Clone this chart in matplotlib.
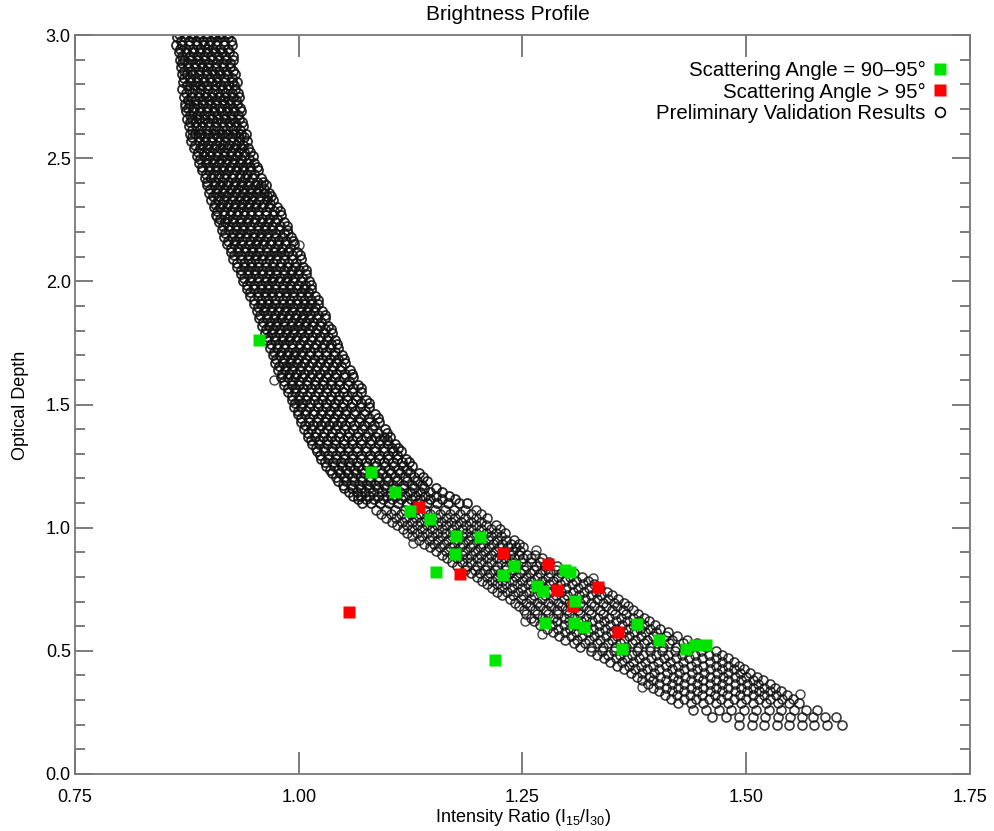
import numpy as np
import matplotlib
matplotlib.use("Agg")
from matplotlib import pyplot as plt
from matplotlib.ticker import MultipleLocator
from matplotlib.lines import Line2D

plt.rcParams['font.family'] = ['Liberation Sans', 'DejaVu Sans']
plt.rcParams['mathtext.default'] = 'regular'
narrow = ['Liberation Sans Narrow', 'Liberation Sans', 'DejaVu Sans']

# validation points, upper (steep) part of the band: (optical depth, [intensity ratios])
upper_rows = [
    (3.02, [.862, .869, .878, .885, .893, .902, .909, .917, .923]),
    (2.99, [.864, .873, .881, .888, .897, .905, .912, .921]),
    (2.96, [.863, .870, .877, .886, .894, .900, .908, .916, .925]),
    (2.93, [.866, .874, .882, .890, .898, .906, .914, .922]),
    (2.90, [.867, .872, .880, .887, .895, .903, .910, .919, .927]),
    (2.87, [.868, .876, .884, .892, .899, .907, .915, .923]),
    (2.84, [.869, .875, .882, .889, .897, .905, .912, .920, .929]),
    (2.81, [.871, .879, .886, .894, .902, .909, .917, .925, .931]),
    (2.78, [.870, .877, .884, .891, .899, .906, .914, .921, .929]),
    (2.75, [.872, .880, .888, .896, .903, .911, .918, .926, .933]),
    (2.72, [.873, .879, .886, .893, .901, .908, .916, .923, .931]),
    (2.69, [.874, .882, .890, .897, .905, .913, .920, .928, .936]),
    (2.66, [.875, .881, .888, .895, .903, .910, .918, .925, .933]),
    (2.63, [.877, .885, .892, .900, .907, .915, .923, .930, .938]),
    (2.60, [.878, .884, .891, .899, .906, .914, .921, .929, .936, .941]),
    (2.57, [.880, .888, .895, .903, .911, .918, .926, .933, .942]),
    (2.54, [.883, .890, .897, .905, .912, .920, .928, .935, .943]),
    (2.51, [.886, .894, .901, .909, .916, .924, .931, .939, .949]),
    (2.48, [.889, .896, .904, .911, .919, .927, .934, .942, .950]),
    (2.45, [.892, .900, .907, .915, .922, .930, .938, .945, .955]),
    (2.42, [.895, .902, .910, .917, .925, .933, .940, .948, .958]),
    (2.39, [.897, .905, .912, .920, .928, .935, .943, .951, .958, .963]),
    (2.36, [.900, .907, .915, .922, .930, .938, .945, .953, .961, .967]),
    (2.33, [.902, .910, .917, .925, .933, .940, .948, .956, .964, .971]),
    (2.30, [.905, .912, .920, .928, .935, .943, .951, .959, .967, .976]),
    (2.27, [.908, .916, .923, .931, .939, .947, .955, .963, .971, .980]),
    (2.24, [.911, .918, .926, .934, .942, .950, .958, .966, .974, .984]),
    (2.21, [.914, .922, .930, .938, .946, .954, .962, .970, .978, .987]),
    (2.18, [.917, .925, .933, .941, .949, .957, .965, .973, .981, .991]),
    (2.15, [.920, .928, .936, .944, .952, .960, .968, .977, .985, .995]),
    (2.12, [.924, .932, .940, .948, .956, .964, .972, .980, .988, .998]),
    (2.09, [.927, .935, .943, .951, .959, .967, .975, .984, .992, 1.002]),
    (2.06, [.931, .939, .947, .955, .963, .971, .979, .987, .996, 1.005]),
    (2.03, [.935, .943, .951, .959, .967, .975, .983, .991, .999, 1.008]),
    (2.00, [.938, .946, .954, .962, .970, .978, .986, .994, 1.003, 1.011]),
    (1.97, [.942, .950, .958, .966, .974, .982, .990, .998, 1.006, 1.014]),
    (1.94, [.946, .954, .962, .970, .978, .986, .994, 1.002, 1.010, 1.018]),
    (1.91, [.950, .958, .966, .974, .982, .990, .998, 1.006, 1.014, 1.022]),
    (1.88, [.953, .961, .969, .977, .985, .993, 1.001, 1.009, 1.017, 1.026]),
    (1.85, [.956, .964, .972, .980, .988, .996, 1.004, 1.012, 1.020, 1.029]),
    (1.82, [.959, .967, .975, .983, .991, .999, 1.007, 1.015, 1.024, 1.033]),
    (1.79, [.962, .970, .978, .986, .994, 1.002, 1.010, 1.019, 1.028, 1.037]),
    (1.76, [.965, .973, .981, .989, .997, 1.005, 1.014, 1.023, 1.032, 1.040]),
    (1.73, [.968, .976, .984, .992, 1.000, 1.008, 1.017, 1.026, 1.035, 1.044]),
    (1.70, [.971, .979, .987, .995, 1.003, 1.012, 1.021, 1.030, 1.039, 1.048]),
    (1.67, [.974, .982, .990, .998, 1.006, 1.015, 1.024, 1.033, 1.042, 1.052]),
    (1.64, [.977, .985, .993, 1.001, 1.010, 1.019, 1.028, 1.037, 1.046, 1.057]),
    (1.61, [.980, .988, .996, 1.004, 1.013, 1.022, 1.031, 1.040, 1.050, 1.061]),
    (1.58, [.984, .992, 1.000, 1.009, 1.018, 1.027, 1.036, 1.045, 1.055, 1.066]),
    (1.55, [.988, .996, 1.004, 1.013, 1.022, 1.031, 1.040, 1.049, 1.059, 1.070]),
    (1.52, [.992, 1.000, 1.008, 1.017, 1.026, 1.035, 1.044, 1.054, 1.064, 1.075]),
    (1.49, [.995, 1.003, 1.012, 1.021, 1.030, 1.039, 1.048, 1.058, 1.068, 1.079]),
    (1.46, [.999, 1.007, 1.016, 1.025, 1.034, 1.043, 1.052, 1.062, 1.073, 1.085]),
    (1.43, [1.003, 1.011, 1.020, 1.029, 1.038, 1.047, 1.057, 1.067, 1.078, 1.090]),
    (1.40, [1.006, 1.014, 1.023, 1.032, 1.041, 1.051, 1.061, 1.071, 1.082, 1.096]),
    (1.37, [1.010, 1.018, 1.027, 1.036, 1.045, 1.055, 1.065, 1.075, 1.086, 1.095, 1.102]),
    (1.34, [1.015, 1.023, 1.032, 1.041, 1.050, 1.060, 1.070, 1.080, 1.090, 1.100, 1.108]),
    (1.31, [1.020, 1.028, 1.037, 1.046, 1.055, 1.065, 1.075, 1.085, 1.095, 1.105, 1.114]),
    (1.28, [1.025, 1.033, 1.042, 1.051, 1.060, 1.070, 1.080, 1.090, 1.100, 1.110, 1.120]),
    (1.25, [1.031, 1.039, 1.048, 1.057, 1.066, 1.076, 1.086, 1.096, 1.106, 1.116, 1.126]),
    (1.22, [1.037, 1.046, 1.055, 1.064, 1.073, 1.083, 1.093, 1.103, 1.113, 1.124, 1.134]),
    (1.19, [1.044, 1.053, 1.062, 1.071, 1.080, 1.090, 1.100, 1.110, 1.121, 1.132, 1.143]),
    (1.16, [1.051, 1.060, 1.069, 1.078, 1.088, 1.098, 1.108, 1.118, 1.129, 1.140, 1.153]),
    (1.13, [1.061, 1.070, 1.079, 1.089, 1.099, 1.109, 1.119, 1.130, 1.141, 1.153, 1.168]),
    (1.10, [1.071, 1.081, 1.091, 1.101, 1.111, 1.121, 1.132, 1.143, 1.155, 1.167, 1.179, 1.188]),
]

# points lying between the rows above
upper_rows_b = [
    (3.005, [.866, .874, .882, .889, .898, .906, .913, .920]),
    (2.975, [.868, .877, .885, .893, .901, .909, .917, .924]),
    (2.945, [.867, .874, .882, .890, .897, .904, .912, .921]),
    (2.915, [.870, .878, .886, .894, .902, .910, .918, .926]),
    (2.885, [.870, .876, .884, .891, .899, .907, .915, .923]),
    (2.855, [.872, .880, .888, .896, .903, .911, .919, .927]),
    (2.825, [.872, .879, .886, .893, .901, .909, .916, .925]),
    (2.795, [.875, .883, .890, .898, .906, .913, .921, .928]),
    (2.765, [.874, .881, .888, .895, .903, .910, .918, .925, .932]),
    (2.735, [.876, .884, .892, .900, .907, .915, .922, .930]),
    (2.705, [.876, .883, .890, .897, .905, .912, .920, .927, .934]),
    (2.675, [.878, .886, .894, .901, .909, .917, .924, .932]),
    (2.645, [.878, .885, .892, .899, .907, .914, .922, .929, .937]),
    (2.615, [.881, .889, .896, .904, .911, .919, .927, .934]),
    (2.585, [.881, .888, .895, .903, .910, .918, .925, .933, .939]),
    (2.555, [.884, .892, .899, .907, .915, .922, .930, .938]),
    (2.525, [.887, .894, .901, .909, .916, .924, .932, .939, .946]),
    (2.495, [.890, .898, .905, .913, .920, .928, .935, .944]),
    (2.465, [.892, .900, .908, .915, .923, .931, .938, .946, .953]),
    (2.435, [.896, .904, .911, .919, .926, .934, .942, .950]),
    (2.405, [.898, .906, .914, .921, .929, .937, .944, .953, .960]),
    (2.375, [.901, .909, .916, .924, .932, .939, .947, .955, .961]),
    (2.345, [.904, .911, .919, .926, .934, .942, .949, .957, .964, .969]),
    (2.315, [.906, .914, .921, .929, .937, .944, .952, .960, .968]),
    (2.285, [.909, .916, .924, .932, .939, .947, .955, .963, .972, .979]),
    (2.255, [.912, .920, .927, .935, .943, .951, .959, .967, .976]),
    (2.225, [.915, .922, .930, .938, .946, .954, .962, .970, .979, .987]),
    (2.195, [.918, .926, .934, .942, .950, .958, .966, .974, .983]),
    (2.165, [.921, .929, .937, .945, .953, .961, .969, .977, .986, .994]),
    (2.135, [.924, .932, .940, .948, .956, .964, .973, .981, .990]),
    (2.105, [.928, .936, .944, .952, .960, .968, .976, .984, .993, 1.001]),
    (2.075, [.931, .939, .947, .955, .963, .971, .980, .988, .997]),
    (2.045, [.935, .943, .951, .959, .967, .975, .983, .992, 1.000, 1.008]),
    (2.015, [.939, .947, .955, .963, .971, .979, .987, .995, 1.004]),
    (1.985, [.942, .950, .958, .966, .974, .982, .990, .999, 1.007, 1.014]),
    (1.955, [.946, .954, .962, .970, .978, .986, .994, 1.002, 1.010]),
    (1.925, [.950, .958, .966, .974, .982, .990, .998, 1.006, 1.014, 1.021]),
    (1.895, [.954, .962, .970, .978, .986, .994, 1.002, 1.010, 1.018]),
    (1.865, [.957, .965, .973, .981, .989, .997, 1.005, 1.013, 1.022, 1.029]),
    (1.835, [.960, .968, .976, .984, .992, 1.000, 1.008, 1.016, 1.025]),
    (1.805, [.963, .971, .979, .987, .995, 1.003, 1.011, 1.020, 1.029, 1.036]),
    (1.775, [.966, .974, .982, .990, .998, 1.006, 1.015, 1.024, 1.033]),
    (1.745, [.969, .977, .985, .993, 1.001, 1.010, 1.019, 1.028, 1.036, 1.043]),
    (1.715, [.972, .980, .988, .996, 1.004, 1.013, 1.022, 1.031, 1.040]),
    (1.685, [.975, .983, .991, .999, 1.008, 1.017, 1.026, 1.035, 1.044, 1.051]),
    (1.655, [.978, .986, .994, 1.002, 1.011, 1.020, 1.029, 1.038, 1.047]),
    (1.625, [.981, .989, .997, 1.006, 1.015, 1.024, 1.033, 1.042, 1.052, 1.060]),
    (1.595, [.984, .992, 1.000, 1.009, 1.018, 1.027, 1.036, 1.045, 1.056]),
    (1.565, [.988, .996, 1.005, 1.014, 1.023, 1.032, 1.041, 1.050, 1.061, 1.069]),
    (1.535, [.992, 1.000, 1.009, 1.018, 1.027, 1.036, 1.045, 1.054, 1.065]),
    (1.505, [.996, 1.004, 1.013, 1.022, 1.031, 1.040, 1.049, 1.059, 1.070, 1.078]),
    (1.475, [.999, 1.008, 1.017, 1.026, 1.035, 1.044, 1.053, 1.063, 1.074]),
    (1.445, [1.003, 1.012, 1.021, 1.030, 1.039, 1.048, 1.057, 1.068, 1.079, 1.088]),
    (1.415, [1.007, 1.016, 1.025, 1.034, 1.043, 1.052, 1.062, 1.073, 1.084]),
    (1.385, [1.010, 1.019, 1.028, 1.037, 1.046, 1.056, 1.066, 1.077, 1.089, 1.099]),
    (1.355, [1.014, 1.023, 1.032, 1.041, 1.050, 1.060, 1.070, 1.081, 1.091, 1.099]),
    (1.325, [1.019, 1.028, 1.037, 1.046, 1.055, 1.065, 1.075, 1.085, 1.095, 1.104, 1.111]),
    (1.295, [1.024, 1.033, 1.042, 1.051, 1.060, 1.070, 1.080, 1.090, 1.100, 1.110]),
    (1.265, [1.029, 1.038, 1.047, 1.056, 1.065, 1.075, 1.085, 1.095, 1.105, 1.115, 1.123]),
    (1.235, [1.035, 1.044, 1.053, 1.062, 1.071, 1.081, 1.091, 1.101, 1.111, 1.121]),
    (1.205, [1.042, 1.051, 1.060, 1.069, 1.078, 1.088, 1.098, 1.108, 1.119, 1.129, 1.139]),
    (1.175, [1.049, 1.058, 1.067, 1.076, 1.085, 1.095, 1.105, 1.116, 1.127, 1.138]),
    (1.145, [1.056, 1.065, 1.074, 1.083, 1.093, 1.103, 1.113, 1.124, 1.135, 1.147, 1.160]),
    (1.115, [1.066, 1.075, 1.084, 1.094, 1.104, 1.114, 1.125, 1.136, 1.147, 1.160, 1.175]),
]

# lower (flatter) part of the band
lower_rows = [
    (1.07, [1.086, 1.097, 1.108, 1.119, 1.130, 1.141, 1.152, 1.163, 1.174, 1.186, 1.198]),
    (1.04, [1.098, 1.109, 1.120, 1.131, 1.142, 1.153, 1.164, 1.175, 1.186, 1.198, 1.210]),
    (1.01, [1.110, 1.121, 1.132, 1.143, 1.154, 1.165, 1.176, 1.187, 1.198, 1.209, 1.220]),
    (0.98, [1.121, 1.132, 1.143, 1.154, 1.165, 1.176, 1.187, 1.198, 1.209, 1.220, 1.231]),
    (0.95, [1.134, 1.145, 1.156, 1.167, 1.178, 1.189, 1.200, 1.211, 1.222, 1.232, 1.241]),
    (0.92, [1.147, 1.158, 1.169, 1.180, 1.191, 1.202, 1.213, 1.224, 1.234, 1.243, 1.251]),
    (0.89, [1.160, 1.171, 1.182, 1.193, 1.204, 1.215, 1.226, 1.236, 1.246, 1.255, 1.264]),
    (0.86, [1.171, 1.182, 1.193, 1.204, 1.215, 1.226, 1.237, 1.248, 1.259, 1.270, 1.280]),
    (0.83, [1.186, 1.197, 1.208, 1.219, 1.230, 1.241, 1.252, 1.263, 1.275, 1.287, 1.298]),
    (0.80, [1.199, 1.210, 1.221, 1.232, 1.243, 1.254, 1.266, 1.278, 1.290, 1.303, 1.316]),
    (0.77, [1.210, 1.221, 1.232, 1.244, 1.256, 1.268, 1.280, 1.292, 1.305, 1.318, 1.330]),
    (0.74, [1.221, 1.233, 1.245, 1.257, 1.269, 1.281, 1.293, 1.306, 1.319, 1.332, 1.344]),
    (0.71, [1.236, 1.248, 1.260, 1.272, 1.284, 1.296, 1.308, 1.320, 1.333, 1.346, 1.357]),
    (0.68, [1.246, 1.258, 1.270, 1.282, 1.294, 1.306, 1.318, 1.330, 1.343, 1.356, 1.368]),
    (0.65, [1.254, 1.266, 1.278, 1.290, 1.302, 1.314, 1.327, 1.340, 1.353, 1.366, 1.379]),
    (0.62, [1.263, 1.276, 1.289, 1.302, 1.315, 1.328, 1.341, 1.354, 1.367, 1.380, 1.391]),
    (0.59, [1.277, 1.290, 1.303, 1.316, 1.329, 1.342, 1.355, 1.368, 1.381, 1.393, 1.404]),
    (0.56, [1.291, 1.304, 1.317, 1.330, 1.343, 1.356, 1.369, 1.382, 1.396, 1.410, 1.423]),
    (0.53, [1.307, 1.320, 1.333, 1.346, 1.359, 1.372, 1.386, 1.400, 1.414, 1.429, 1.445]),
    (0.50, [1.326, 1.339, 1.352, 1.365, 1.378, 1.392, 1.406, 1.420, 1.435, 1.450, 1.466]),
    (0.47, [1.341, 1.354, 1.367, 1.380, 1.394, 1.408, 1.422, 1.436, 1.451, 1.466, 1.480]),
    (0.44, [1.356, 1.369, 1.382, 1.396, 1.410, 1.424, 1.438, 1.452, 1.466, 1.480, 1.492]),
    (0.41, [1.371, 1.384, 1.397, 1.411, 1.425, 1.439, 1.453, 1.467, 1.480, 1.493, 1.504]),
    (0.38, [1.383, 1.396, 1.410, 1.424, 1.438, 1.452, 1.466, 1.480, 1.494, 1.507, 1.519]),
    (0.35, [1.396, 1.410, 1.424, 1.438, 1.452, 1.466, 1.480, 1.494, 1.507, 1.520, 1.532]),
    (0.32, [1.409, 1.423, 1.437, 1.451, 1.465, 1.479, 1.493, 1.507, 1.520, 1.533, 1.545]),
    (0.29, [1.424, 1.438, 1.452, 1.466, 1.480, 1.494, 1.508, 1.522, 1.535, 1.548, 1.559]),
    (0.26, [1.441, 1.455, 1.469, 1.483, 1.497, 1.511, 1.525, 1.539, 1.553, 1.567, 1.579]),
    (0.23, [1.462, 1.477, 1.492, 1.507, 1.521, 1.535, 1.549, 1.562, 1.575, 1.588, 1.600]),
    (0.20, [1.492, 1.506, 1.520, 1.534, 1.548, 1.562, 1.576, 1.590, 1.607]),
]

lower_rows_b = [
    (1.055, [1.092, 1.103, 1.114, 1.125, 1.136, 1.147, 1.158, 1.169, 1.180, 1.192, 1.204]),
    (1.025, [1.104, 1.115, 1.126, 1.137, 1.148, 1.159, 1.170, 1.181, 1.192, 1.204]),
    (0.995, [1.116, 1.127, 1.138, 1.149, 1.160, 1.171, 1.182, 1.193, 1.204, 1.215, 1.225]),
    (0.965, [1.127, 1.138, 1.149, 1.160, 1.171, 1.182, 1.193, 1.204, 1.215, 1.226]),
    (0.935, [1.140, 1.151, 1.162, 1.173, 1.184, 1.195, 1.206, 1.217, 1.227, 1.237, 1.246]),
    (0.905, [1.153, 1.164, 1.175, 1.186, 1.197, 1.208, 1.219, 1.229, 1.239, 1.247]),
    (0.875, [1.166, 1.177, 1.188, 1.199, 1.210, 1.221, 1.231, 1.241, 1.251, 1.260, 1.272]),
    (0.845, [1.177, 1.188, 1.199, 1.210, 1.221, 1.232, 1.243, 1.254, 1.265, 1.275, 1.289]),
    (0.815, [1.192, 1.203, 1.214, 1.225, 1.236, 1.247, 1.258, 1.269, 1.281, 1.293, 1.307]),
    (0.785, [1.205, 1.216, 1.227, 1.238, 1.249, 1.260, 1.272, 1.284, 1.297, 1.310, 1.323]),
    (0.755, [1.216, 1.227, 1.238, 1.250, 1.262, 1.274, 1.286, 1.299, 1.312, 1.324, 1.337]),
    (0.725, [1.227, 1.239, 1.251, 1.263, 1.275, 1.287, 1.300, 1.313, 1.326, 1.338, 1.350]),
    (0.695, [1.242, 1.254, 1.266, 1.278, 1.290, 1.302, 1.314, 1.327, 1.340, 1.352, 1.363]),
    (0.665, [1.252, 1.264, 1.276, 1.288, 1.300, 1.312, 1.324, 1.337, 1.350, 1.362, 1.374]),
    (0.635, [1.260, 1.272, 1.284, 1.296, 1.308, 1.321, 1.334, 1.347, 1.360, 1.373, 1.386]),
    (0.605, [1.270, 1.283, 1.296, 1.309, 1.322, 1.335, 1.348, 1.361, 1.374, 1.386, 1.398]),
    (0.575, [1.284, 1.297, 1.310, 1.323, 1.336, 1.349, 1.362, 1.375, 1.387, 1.399, 1.413]),
    (0.545, [1.298, 1.311, 1.324, 1.337, 1.350, 1.363, 1.376, 1.389, 1.403, 1.417, 1.434]),
    (0.515, [1.314, 1.327, 1.340, 1.353, 1.366, 1.379, 1.393, 1.407, 1.422, 1.437, 1.455]),
    (0.485, [1.333, 1.346, 1.359, 1.372, 1.385, 1.399, 1.413, 1.428, 1.443, 1.458, 1.473]),
    (0.455, [1.348, 1.361, 1.374, 1.387, 1.401, 1.415, 1.429, 1.444, 1.459, 1.473, 1.486]),
    (0.425, [1.363, 1.376, 1.389, 1.403, 1.417, 1.431, 1.445, 1.459, 1.473, 1.486, 1.498]),
    (0.395, [1.378, 1.391, 1.404, 1.418, 1.432, 1.446, 1.460, 1.474, 1.487, 1.500, 1.512]),
    (0.365, [1.390, 1.403, 1.417, 1.431, 1.445, 1.459, 1.473, 1.487, 1.501, 1.513, 1.526]),
    (0.335, [1.403, 1.417, 1.431, 1.445, 1.459, 1.473, 1.487, 1.501, 1.514, 1.527, 1.539]),
    (0.305, [1.416, 1.430, 1.444, 1.458, 1.472, 1.486, 1.500, 1.514, 1.527, 1.540, 1.552]),
]

# stray circles just outside the band edges
stray_x = [0.873, 0.909, 1.000, 0.988, 0.972, 1.066, 1.128, 1.253, 1.265, 1.272, 1.329, 1.384, 1.560]
stray_y = [2.708, 2.261, 2.147, 2.196, 1.600, 1.130, 0.937, 0.621, 0.909, 0.568, 0.795, 0.353, 0.325]

# scattering angle 90-95 deg
green_x = [0.956, 1.081, 1.108, 1.124, 1.147, 1.176, 1.203, 1.175, 1.153, 1.240, 1.228, 1.298,
           1.303, 1.266, 1.273, 1.309, 1.275, 1.308, 1.319, 1.378, 1.403, 1.361, 1.433, 1.443,
           1.455, 1.219]
green_y = [1.762, 1.226, 1.144, 1.069, 1.034, 0.967, 0.961, 0.893, 0.821, 0.846, 0.808, 0.830,
           0.818, 0.764, 0.743, 0.704, 0.612, 0.614, 0.595, 0.609, 0.543, 0.507, 0.506, 0.525,
           0.525, 0.464]

# scattering angle > 95 deg
red_x = [1.056, 1.134, 1.228, 1.180, 1.279, 1.289, 1.334, 1.357, 1.306]
red_y = [0.658, 1.085, 0.898, 0.810, 0.853, 0.747, 0.758, 0.578, 0.684]

xticks = [0.75, 1.00, 1.25, 1.50, 1.75]
xticklabels = ['0.75', '1.00', '1.25', '1.50', '1.75']
yticks = [0.0, 0.5, 1.0, 1.5, 2.0, 2.5, 3.0]


def flatten(rows):
    xs, ys = [], []
    for y, row in rows:
        xs += row
        ys += [y] * len(row)
    return np.array(xs), np.array(ys)


ux, uy = flatten(upper_rows + upper_rows_b)
lx, ly = flatten(lower_rows + lower_rows_b)

fig = plt.figure(figsize=(9.95, 8.31), dpi=100)
ax = fig.add_axes([75 / 995, 1 - 774 / 831, 895 / 995, 739 / 831])

ax.plot(ux, uy, 'o', ms=6.5, mfc='none', mec='#111111', mew=1.3, alpha=0.9, zorder=2)
ax.plot(lx, ly, 'o', ms=6.5, mfc='none', mec='#111111', mew=1.15, alpha=0.85, zorder=2)
ax.plot(stray_x, stray_y, 'o', ms=6.5, mfc='none', mec='#111111', mew=1.0, alpha=0.8, zorder=2)
ax.plot(red_x, red_y, 's', ms=8.6, color='#ff0000', mec='none', zorder=3)
ax.plot(green_x, green_y, 's', ms=8.6, color='#00e400', mec='none', zorder=4)

ax.set_xlim(0.75, 1.75)
ax.set_ylim(0.0, 3.0)
ax.set_xticks(xticks)
ax.set_xticklabels(xticklabels, family=narrow, fontsize=13)
ax.set_yticks(yticks)
ax.set_yticklabels(['%.1f' % v for v in yticks], fontsize=13)
ax.yaxis.set_minor_locator(MultipleLocator(0.1))

ax.tick_params(which='both', direction='in', top=True, right=True, color='#666666', width=1.2)
ax.tick_params(axis='x', which='major', length=16, pad=11)
ax.tick_params(axis='y', which='major', length=13, pad=3)
ax.tick_params(axis='y', which='minor', length=7)
for s in ax.spines.values():
    s.set_color('#777777')
    s.set_linewidth(1.3)

fig.text(508 / 995, 1 - 15 / 831, 'Brightness Profile', ha='center', va='center', fontsize=15)
fig.text(523 / 995, 1 - 817 / 831, 'Intensity Ratio (I$_{15}$/I$_{30}$)', ha='center', va='center',
         fontsize=13, family=narrow)
fig.text(21 / 995, 1 - 405 / 831, 'Optical Depth', ha='center', va='center', rotation=90,
         fontsize=13, family=narrow)

handles = [
    Line2D([], [], ls='none', marker='s', ms=8.4, color='#00e400', mec='none'),
    Line2D([], [], ls='none', marker='s', ms=8.4, color='#ff0000', mec='none'),
    Line2D([], [], ls='none', marker='o', ms=7, mfc='none', mec='black', mew=1.2),
]
labels = ['Scattering Angle = 90\u201395\u00b0', 'Scattering Angle > 95\u00b0', 'Preliminary Validation Results']
ax.legend(handles, labels, loc='upper right', bbox_to_anchor=(1 - 24 / 895, 1 - 26 / 739),
          frameon=False, markerfirst=False, fontsize=14.7, handlelength=0.6, handletextpad=0.4,
          labelspacing=0.12, borderaxespad=0, borderpad=0)

fig.savefig('out.png', dpi=100)
